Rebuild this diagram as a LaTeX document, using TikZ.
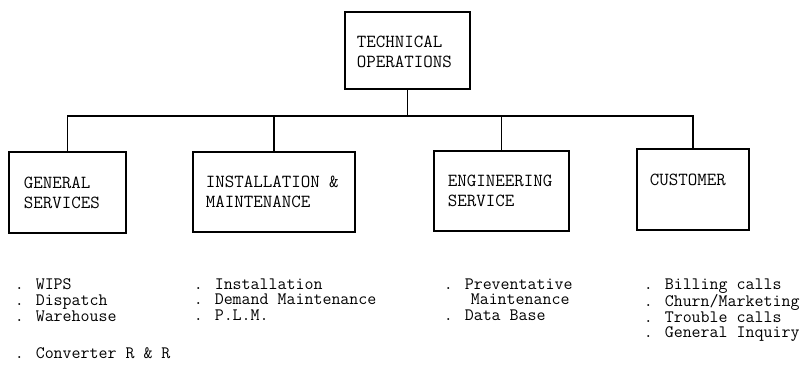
\documentclass[tikz,border=0pt]{standalone}
\usepackage{tikz}
\usetikzlibrary{positioning}

\begin{document}
\begin{tikzpicture}[x=1bp, y=-1bp, line width=1.7bp,
  unit/.style={draw, inner sep=0pt},
  txt/.style={anchor=north west, inner sep=0pt, align=left, font=\fontsize{18.5}{19.5}\selectfont\ttfamily},
  lst/.style={txt, font=\fontsize{17.5}{16}\selectfont\ttfamily}]
\useasboundingbox (0,0) rectangle (812,372);
% boxes
\node (T) [unit, minimum width=125bp, minimum height=77bp] at (407.5,50.5) {};
\node (GS) [unit, minimum width=117bp, minimum height=81bp] at (67.5,192.5) {};
\node (IM) [unit, minimum width=162bp, minimum height=80bp] at (274,192) {};
\node (ES) [unit, minimum width=135bp, minimum height=80bp] at (501.5,191) {};
\node (CU) [unit, minimum width=112bp, minimum height=81bp] at (693,189.5) {};
\node (Ttext) [txt] at (356,35.5) {TECHNICAL\\OPERATIONS};
\node (GStext) [txt] at (23,176.5) {GENERAL\\SERVICES};
\node (IMtext) [txt] at (205,175.5) {INSTALLATION \&\\MAINTENANCE};
\node (EStext) [txt] at (447,174.5) {ENGINEERING\\SERVICE};
\node (CUtext) [txt] at (649,173.5) {CUSTOMER};
% lines
\coordinate (bus) at (407.5,116);
\draw (T.south) -- (bus);
\draw (GS.north) |- (bus) -| (CU.north);
\draw (IM.north) -- (IM.north |- bus);
\draw (ES.north) -- (ES.north |- bus);
% lists
\node (GSlist) [lst] at (14,277.5) {. WIPS\\. Dispatch\\. Warehouse};
\node (GSextra) [lst] at (14,346.5) {. Converter R \& R};
\node (IMlist) [lst] at (193,277.5) {. Installation\\. Demand Maintenance\\. P.L.M.};
\node (ESlist) [lst] at (443,277.5) {. Preventative\\\ \ \ Maintenance\\. Data Base};
\node (CUlist) [lst] at (643,277.5) {. Billing calls\\. Churn/Marketing\\. Trouble calls\\. General Inquiry};
\end{tikzpicture}
\end{document}
